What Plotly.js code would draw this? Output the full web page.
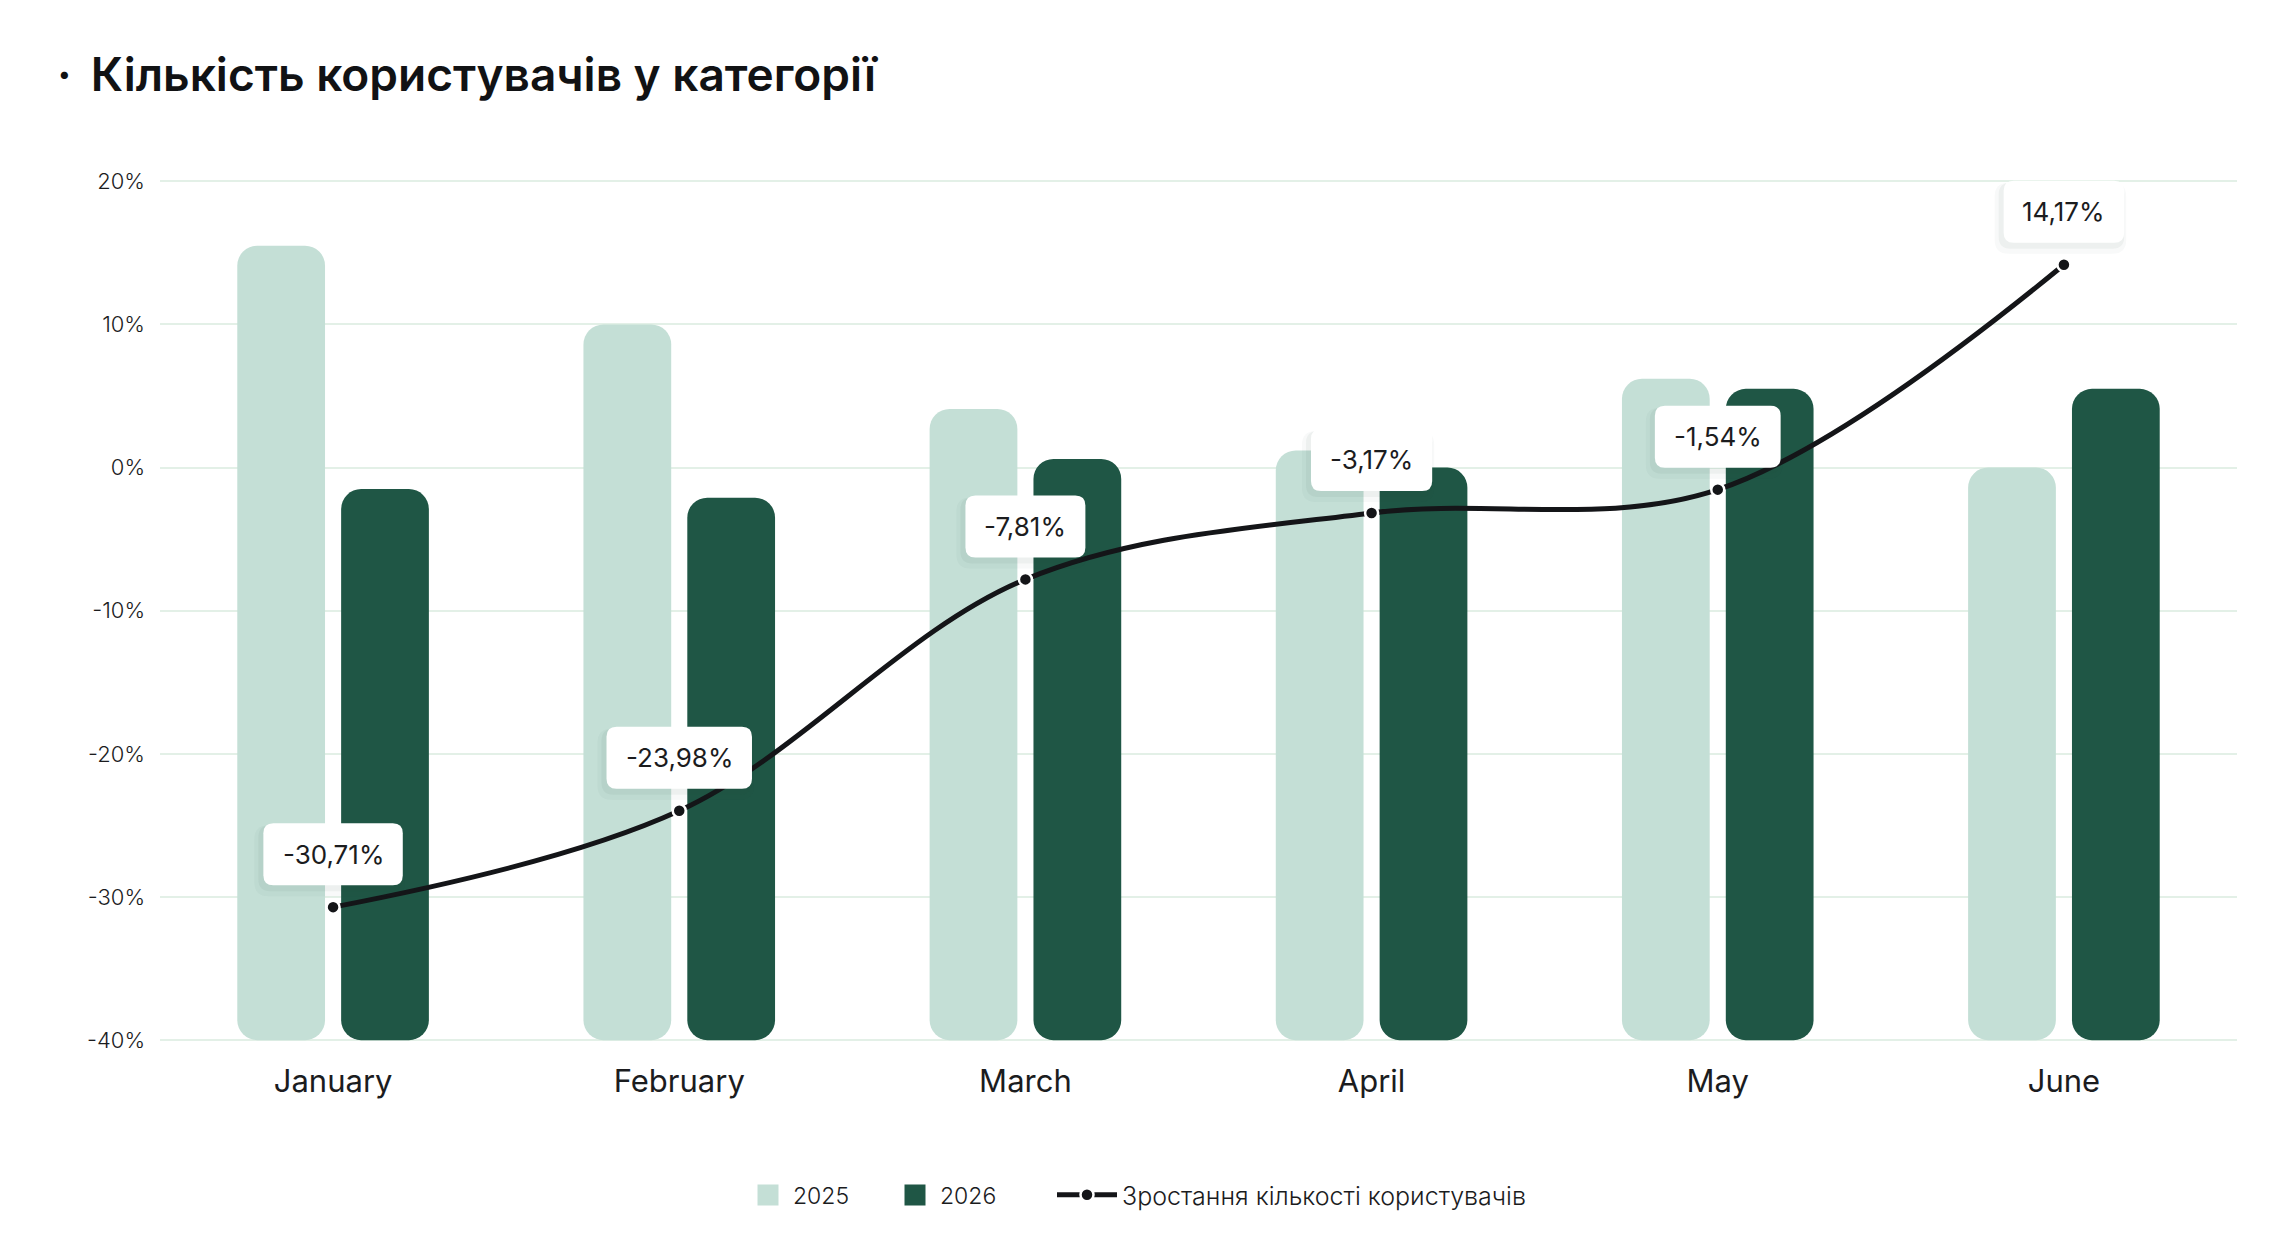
<!DOCTYPE html>
<html>
<head>
<meta charset="utf-8">
<script src="https://cdn.plot.ly/plotly-3.0.1.min.js"></script>
<style>
  html, body { margin: 0; padding: 0; background: #ffffff; }
  #chart { width: 2296px; height: 1246px; }
</style>
</head>
<body>
<div id="chart"></div>
<script>
// ---- data ----
const months = ['January', 'February', 'March', 'April', 'May', 'June'];
const users2025 = [15.5, 10.0, 4.1, 1.2, 6.2, 0.0];
const users2026 = [-1.5, -2.1, 0.6, 0.0, 5.5, 5.5];
const growth = [-30.71, -23.98, -7.81, -3.17, -1.54, 14.17];
const growthLabels = ['-30,71%', '-23,98%', '-7,81%', '-3,17%', '-1,54%', '14,17%'];
const yTickVals = [-40, -30, -20, -10, 0, 10, 20];
const yTickText = ['-40%', '-30%', '-20%', '-10%', '0%', '10%', '20%'];
const seriesNames = ['2025', '2026', 'Зростання кількості користувачів'];
const chartTitle = '·\u2009 Кількість користувачів у категорії';

// ---- style ----
const FONT = 'Inter, "Noto Sans", sans-serif';
const TEXT = '#1b1c1e';
const LIGHT = '#c4dfd6';
const DARK = '#1f5645';
const GRID = '#e3f0e7';
const BASE = -40;

const traces = [
  {
    type: 'bar', name: seriesNames[0], x: months,
    y: users2025.map(v => v - BASE), base: BASE, showlegend: false,
    marker: { color: LIGHT, line: { width: 0 } }, hoverinfo: 'skip'
  },
  {
    type: 'bar', name: seriesNames[1], x: months,
    y: users2026.map(v => v - BASE), base: BASE, showlegend: false,
    marker: { color: DARK, line: { width: 0 } }, hoverinfo: 'skip'
  },
  // legend entries for the bar series (larger swatches)
  {
    type: 'scatter', mode: 'markers', name: seriesNames[0], x: [months[0]], y: [null],
    legend: 'legend',
    marker: { symbol: 'square', color: LIGHT, size: 16, line: { color: LIGHT, width: 6 } },
    hoverinfo: 'skip'
  },
  {
    type: 'scatter', mode: 'markers', name: seriesNames[1], x: [months[0]], y: [null],
    legend: 'legend2',
    marker: { symbol: 'square', color: DARK, size: 16, line: { color: DARK, width: 6 } },
    hoverinfo: 'skip'
  },
  {
    type: 'scatter', mode: 'lines+markers', name: seriesNames[2], x: months, y: growth,
    legend: 'legend3',
    line: { color: '#141518', width: 5, shape: 'spline', smoothing: 1 },
    marker: { color: '#141518', size: 13, line: { color: '#ffffff', width: 2.5 } },
    cliponaxis: false, hoverinfo: 'skip'
  }
];

// label boxes
const LABEL_SIZE = 26;
const canvas = document.createElement('canvas');
const ctx = canvas.getContext('2d');
ctx.font = '400 ' + LABEL_SIZE + 'px Inter';
function rr(x0, y0, x1, y1, r) {
  return 'M' + (x0 + r) + ',' + y0 + ' L' + (x1 - r) + ',' + y0 +
    ' Q' + x1 + ',' + y0 + ' ' + x1 + ',' + (y0 + r) +
    ' L' + x1 + ',' + (y1 - r) +
    ' Q' + x1 + ',' + y1 + ' ' + (x1 - r) + ',' + y1 +
    ' L' + (x0 + r) + ',' + y1 +
    ' Q' + x0 + ',' + y1 + ' ' + x0 + ',' + (y1 - r) +
    ' L' + x0 + ',' + (y0 + r) +
    ' Q' + x0 + ',' + y0 + ' ' + (x0 + r) + ',' + y0 + ' Z';
}
const shapes = [];
const annotations = [];
months.forEach((m, i) => {
  const w = ctx.measureText(growthLabels[i]).width + 38;
  const gap = 22, h = 62;
  const common = { type: 'path', xref: 'x', yref: 'y', xsizemode: 'pixel', ysizemode: 'pixel',
    xanchor: i, yanchor: growth[i], layer: 'above', line: { width: 0 } };
  shapes.push(Object.assign({}, common, {
    path: rr(-w / 2 - 9, gap - 11, w / 2 + 2, gap + h - 2, 14), fillcolor: 'rgba(40,70,60,0.03)'
  }));
  shapes.push(Object.assign({}, common, {
    path: rr(-w / 2 - 5, gap - 6, w / 2, gap + h - 2, 12), fillcolor: 'rgba(40,70,60,0.05)'
  }));
  shapes.push(Object.assign({}, common, {
    path: rr(-w / 2, gap, w / 2, gap + h, 10), fillcolor: '#ffffff'
  }));
  annotations.push({
    x: i, y: growth[i], xref: 'x', yref: 'y', text: growthLabels[i], showarrow: false,
    yshift: gap + h / 2, xanchor: 'center', yanchor: 'middle',
    font: { family: FONT, size: LABEL_SIZE, color: TEXT, weight: 400 }
  });
});

function legendAt(xPx, size, itemW) {
  return {
    orientation: 'h', xref: 'container', yref: 'container',
    x: xPx / 2296, xanchor: 'left', y: 1 - 1195 / 1246, yanchor: 'middle',
    font: { family: FONT, size: size, color: TEXT, weight: 300 },
    itemwidth: itemW, itemsizing: 'trace', bgcolor: 'rgba(0,0,0,0)'
  };
}

const layout = {
  width: 2296, height: 1246,
  paper_bgcolor: '#ffffff', plot_bgcolor: '#ffffff',
  margin: { l: 160, r: 59, t: 167, b: 203 },
  font: { family: FONT, color: TEXT },
  title: {
    text: chartTitle, xref: 'container', yref: 'container',
    x: 57 / 2296, xanchor: 'left', y: 1 - 75 / 1246, yanchor: 'middle',
    font: { family: FONT, size: 46, color: '#111214', weight: 600 }
  },
  barmode: 'group', bargap: 0.4, bargroupgap: 0.155, barcornerradius: 20,
  xaxis: {
    type: 'category', showgrid: false, zeroline: false, showline: false, ticks: '',
    tickfont: { family: FONT, size: 31, color: TEXT, weight: 400 },
    ticklabelstandoff: 17, fixedrange: true
  },
  yaxis: {
    range: [-40.2, 21], tickvals: yTickVals, ticktext: yTickText,
    showgrid: true, gridcolor: GRID, gridwidth: 2, zeroline: false, showline: false, ticks: '',
    tickfont: { family: FONT, size: 22, color: TEXT, weight: 300 },
    ticklabelstandoff: 14, fixedrange: true
  },
  showlegend: true,
  legend: legendAt(743, 23, 40),
  legend2: legendAt(890, 23, 40),
  legend3: legendAt(1052, 25, 60),
  shapes: shapes,
  annotations: annotations
};

Plotly.newPlot('chart', traces, layout, { displayModeBar: false, staticPlot: true });
</script>
</body>
</html>
